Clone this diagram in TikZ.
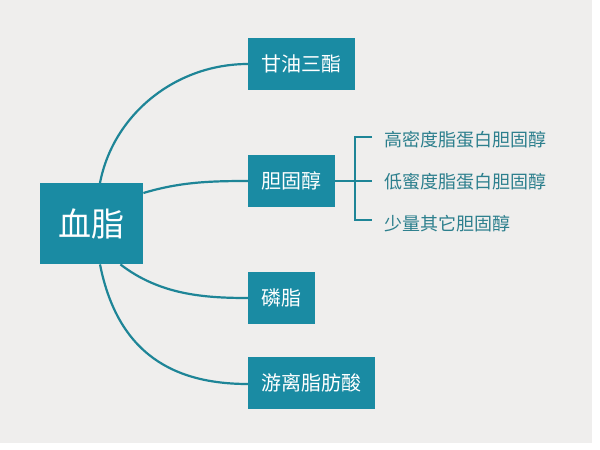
\documentclass[tikz,border=0pt]{standalone}
\usepackage{fontspec}
\newfontfamily\cjk{Noto Sans CJK SC}
\definecolor{teal1}{HTML}{1A8BA3}
\definecolor{line1}{HTML}{1E8597}
\definecolor{txt1}{HTML}{2C7F8D}
\definecolor{bg1}{HTML}{EFEEED}
\tikzset{
  box/.style={fill=teal1, inner sep=0pt, anchor=north west, text=white, font=\cjk\fontsize{20}{22}\selectfont},
  conn/.style={draw=line1, line width=2.2pt},
  sub/.style={anchor=west, text=txt1, inner sep=0pt, font=\cjk\fontsize{18}{20}\selectfont}
}
\begin{document}
\begin{tikzpicture}[x=1pt,y=-1pt]
\useasboundingbox (0,0) rectangle (600,450);
\fill[white] (0,0) rectangle (600,450);
\fill[bg1] (0,0) rectangle (592,443);
% boxes
\node[box, minimum width=103pt, minimum height=81pt, font=\cjk\fontsize{33}{36}\selectfont] (main) at (40,183) {血脂};
\node[box, minimum width=107pt, minimum height=52pt] (tg) at (248,38) {甘油三酯};
\node[box, minimum width=87pt, minimum height=52pt] (chol) at (248,155) {胆固醇};
\node[box, minimum width=67pt, minimum height=52pt] (pl) at (248,272) {磷脂};
\node[box, minimum width=127pt, minimum height=52pt] (ffa) at (248,357) {游离脂肪酸};
% connectors
\draw[conn] ([xshift=60pt]main.north west) .. controls (113,115) and (175,64) .. ([yshift=-26pt]tg.north west);
\draw[conn] ([yshift=-10pt]main.north east) .. controls (180,182) and (210,181) .. ([yshift=-26pt]chol.north west);
\draw[conn] ([xshift=-23pt]main.south east) .. controls (160,295) and (205,298) .. ([yshift=-26pt]pl.north west);
\draw[conn] ([xshift=60pt]main.south west) .. controls (118,355) and (175,384) .. ([yshift=-27pt]ffa.north west);
% bracket
\coordinate (bt) at (355,137);
\coordinate (bb) at (355,220);
\node[sub] (s1) at (384,140) {高密度脂蛋白胆固醇};
\node[sub] (s2) at (384,182) {低蜜度脂蛋白胆固醇};
\node[sub] (s3) at (384,224) {少量其它胆固醇};
\draw[line1, line width=1.6pt] ([yshift=-26pt]chol.north east) -- (372,181);
\draw[line1, line width=1.6pt] (372,137) -- (bt) -- (bb) -- (372,220);
\end{tikzpicture}
\end{document}
